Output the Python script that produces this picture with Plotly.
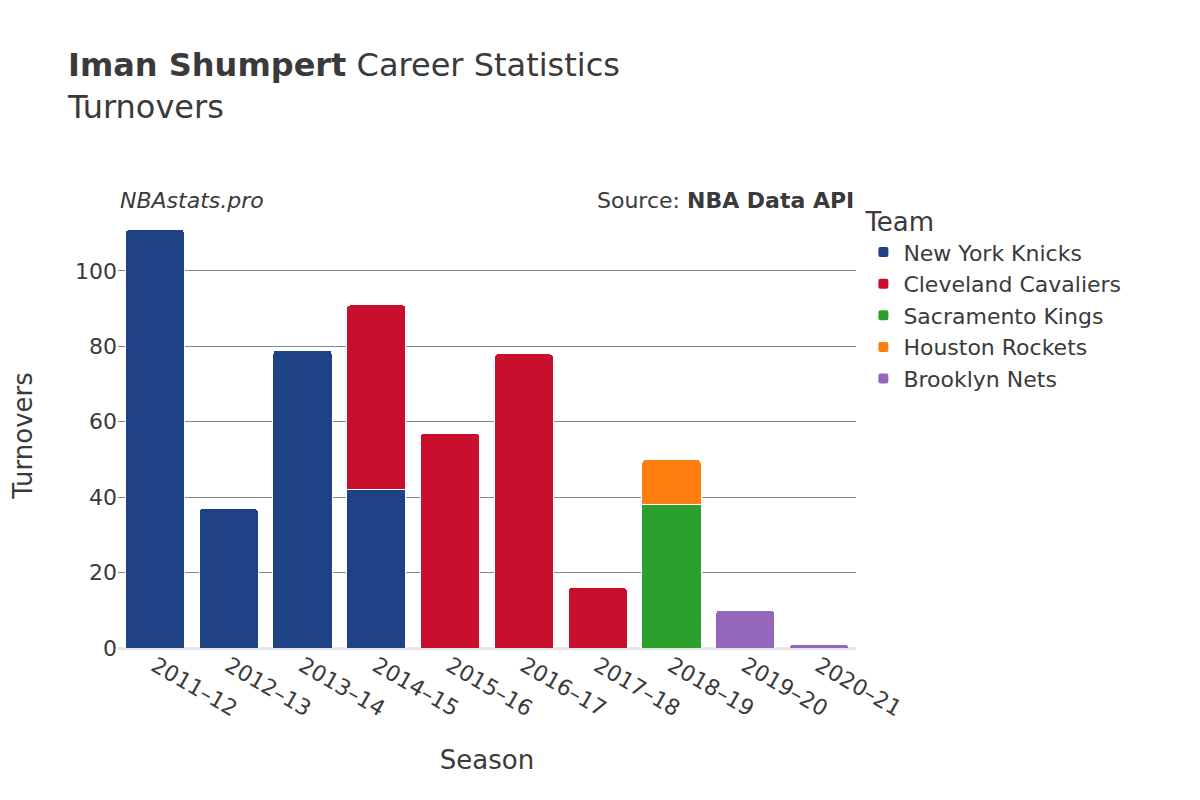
import plotly.graph_objects as go

seasons = ["2011–12", "2012–13", "2013–14", "2014–15", "2015–16",
           "2016–17", "2017–18", "2018–19", "2019–20", "2020–21"]

teams = ["New York Knicks", "Cleveland Cavaliers", "Sacramento Kings",
         "Houston Rockets", "Brooklyn Nets"]
colors = ["#1f4287", "#c8102e", "#2ca02c", "#ff7f0e", "#9467bd"]

team_seasons = {
    "New York Knicks": ["2011–12", "2012–13", "2013–14", "2014–15"],
    "Cleveland Cavaliers": ["2014–15", "2015–16", "2016–17", "2017–18"],
    "Sacramento Kings": ["2018–19"],
    "Houston Rockets": ["2018–19"],
    "Brooklyn Nets": ["2019–20", "2020–21"],
}
team_turnovers = {
    "New York Knicks": [111, 37, 79, 42],
    "Cleveland Cavaliers": [49, 57, 78, 16],
    "Sacramento Kings": [38],
    "Houston Rockets": [12],
    "Brooklyn Nets": [10, 1],
}

fig = go.Figure()
for team, color in zip(teams, colors):
    fig.add_trace(go.Bar(
        x=team_seasons[team], y=team_turnovers[team], name=team,
        marker=dict(color=color, line=dict(color="white", width=1)),
    ))

fig.update_layout(
    barmode="stack",
    barcornerradius=4,
    width=1200, height=800,
    font=dict(family="DejaVu Sans", color="#3a3a3a", size=22),
    plot_bgcolor="white", paper_bgcolor="white",
    margin=dict(l=110, r=352, t=215, b=160, autoexpand=False),
    title=dict(
        text="<b>Iman Shumpert</b> Career Statistics<br>Turnovers",
        x=0.05, xanchor="left", y=0.915, yanchor="top",
        font=dict(size=32),
    ),
    legend=dict(title=dict(text="Team", font=dict(size=26)), x=1.01, y=1.06,
                yanchor="top", traceorder="normal", itemsizing="constant",
                font=dict(size=22), tracegroupgap=8),
    xaxis=dict(title=dict(text="Season", font=dict(size=26), standoff=30),
               tickangle=30, categoryorder="array", categoryarray=seasons,
               automargin=False),
    yaxis=dict(title=dict(text="Turnovers", font=dict(size=26), standoff=40),
               range=[0, 112.7], gridcolor="#888", zeroline=True,
               zerolinecolor="#e5e5ea", zerolinewidth=3, dtick=20,
               automargin=False),
    bargap=0.2,
    annotations=[
        dict(text="<i>NBAstats.pro</i>", x=0, y=1.02, xref="paper",
             yref="paper", xanchor="left", yanchor="bottom",
             showarrow=False, font=dict(size=22)),
        dict(text="Source: <b>NBA Data API</b>", x=1, y=1.02, xref="paper",
             yref="paper", xanchor="right", yanchor="bottom",
             showarrow=False, font=dict(size=22)),
    ],
)

fig.write_html("out.html")
